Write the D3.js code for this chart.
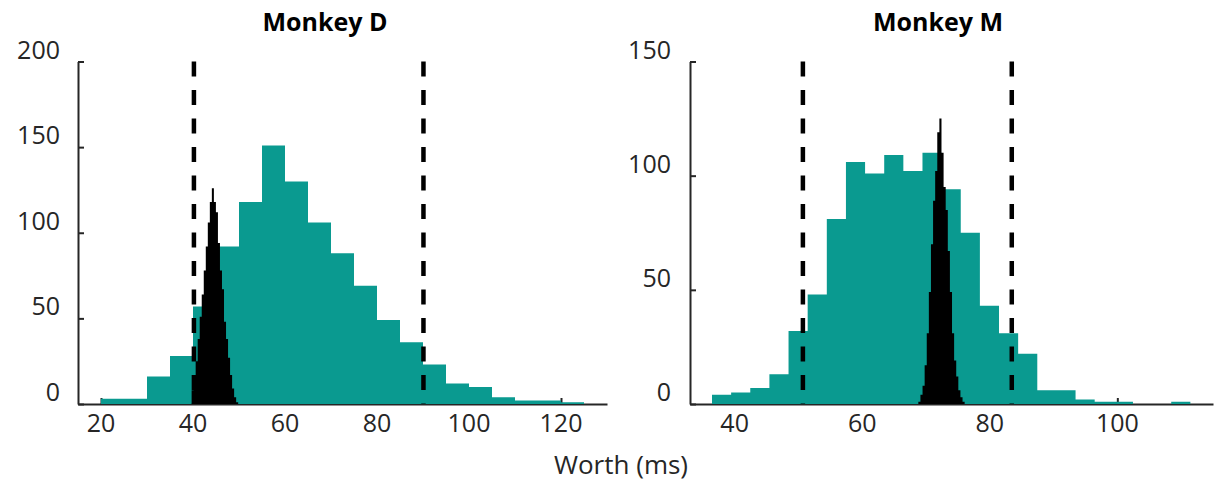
<!DOCTYPE html>
<html>
<head>
<meta charset="utf-8">
<script src="https://cdn.jsdelivr.net/npm/d3@7"></script>
<style>
  body { margin: 0; background: #fff; }
  svg text { font-family: "Open Sans", "Noto Sans", sans-serif; fill: #262626; }
</style>
</head>
<body>
<svg id="chart"></svg>
<script>
(function (d3) {
    'use strict';

    // Monkey D: wide (teal) histogram, bin start / width / counts
    var dTealStart = 20, dTealWidth = 5;
    var dTeal = [3, 3, 16, 28, 57, 92, 118, 151, 130, 106, 88, 69, 49, 36, 23, 12, 10, 4, 2, 2, 1];
    // Monkey D: narrow (black) histogram
    var dBlackStart = 39.7, dBlackWidth = 0.44;
    var dBlack = [8, 14, 25, 38, 51, 64, 78, 92, 106, 118, 126, 118, 112, 94, 78, 67, 48, 38, 27, 17, 9, 4, 1];
    var dBounds = [40.2, 90.1];
    var dXTicks = [20, 40, 60, 80, 100, 120];
    var dYTicks = [0, 50, 100, 150, 200];

    // Monkey M
    var mTealStart = 36.45, mTealWidth = 3;
    var mTeal = [4, 5, 7, 13, 32, 48, 81, 106, 101, 109, 102, 110, 94, 75, 43, 31, 22, 6, 6, 2, 1, 1, 0, 0, 1];
    var mBlackStart = 68.8, mBlackWidth = 0.33;
    var mBlack = [1, 4, 8, 17, 31, 49, 70, 89, 102, 119, 125, 110, 95, 85, 67, 49, 31, 19, 12, 6, 3, 1];
    var mBounds = [50.7, 83.45];
    var mXTicks = [40, 60, 80, 100];
    var mYTicks = [0, 50, 100, 150];

    var width = 1215, height = 483;
    var teal = '#0a9a90', ink = '#262626';

    var svg = d3.select('#chart')
        .attr('width', width)
        .attr('height', height);

    // step outline points for a histogram: one point per bin plus a closing point
    function steps(start, w, counts) {
        var pts = counts.map(function (c, i) { return { x: start + i * w, n: c }; });
        pts.push({ x: start + counts.length * w, n: 0 });
        return pts;
    }

    function panel(opt) {
        var x = d3.scaleLinear().domain(opt.xDomain).range(opt.xRange),
            y = d3.scaleLinear().domain(opt.yDomain).range([404, 61.5]);

        var g = svg.append('g');

        // axes (ticks point inward, drawn under the bars)
        g.append('g')
            .attr('class', 'axis axis--x')
            .attr('transform', 'translate(0,' + y(0) + ')')
            .call(d3.axisBottom(x).tickValues(opt.xTicks).tickSize(-6).tickSizeOuter(0).tickFormat(''));

        g.append('g')
            .attr('class', 'axis axis--y')
            .attr('transform', 'translate(' + x.range()[0] + ',0)')
            .call(d3.axisLeft(y).tickValues(opt.yTicks).tickSize(-6).tickSizeOuter(0).tickFormat(''));

        g.selectAll('.axis path, .axis line')
            .attr('stroke', ink)
            .attr('stroke-width', 2);

        var area = d3.area()
            .curve(d3.curveStepAfter)
            .x(function (d) { return x(d.x); })
            .y0(y(0))
            .y1(function (d) { return y(d.n); });

        g.append('path')
            .datum(steps(opt.tealStart, opt.tealWidth, opt.teal))
            .attr('class', 'teal')
            .attr('d', area)
            .attr('fill', teal);

        g.append('path')
            .datum(steps(opt.blackStart, opt.blackWidth, opt.black))
            .attr('class', 'black')
            .attr('d', area)
            .attr('fill', '#000');

        g.selectAll('.bound')
            .data(opt.bounds)
            .enter()
            .append('line')
            .attr('class', 'bound')
            .attr('x1', function (d) { return x(d); })
            .attr('x2', function (d) { return x(d); })
            .attr('y1', y.range()[1])
            .attr('y2', y(0))
            .attr('stroke', '#000')
            .attr('stroke-width', 4.5)
            .attr('stroke-dasharray', '15,13.5');

        // tick labels
        g.selectAll('.xlab')
            .data(opt.xTicks)
            .enter()
            .append('text')
            .attr('x', function (d) { return x(d); })
            .attr('y', 432)
            .attr('text-anchor', 'middle')
            .style('font-size', '25px')
            .text(function (d) { return d; });

        g.selectAll('.ylab')
            .data(opt.yTicks)
            .enter()
            .append('text')
            .attr('x', opt.yLabelX)
            .attr('y', function (d) { return y(d) - 3; })
            .attr('text-anchor', 'end')
            .style('font-size', '25px')
            .text(function (d) { return d; });

        g.append('text')
            .attr('x', opt.titleX)
            .attr('y', 31)
            .attr('text-anchor', 'middle')
            .style('font-size', '25px')
            .style('font-weight', 'bold')
            .style('fill', '#000')
            .text(opt.title);
    }

    panel({
        title: 'Monkey D', titleX: 325,
        xDomain: [15, 130], xRange: [78, 607],
        yDomain: [0, 200], yLabelX: 60,
        xTicks: dXTicks, yTicks: dYTicks,
        tealStart: dTealStart, tealWidth: dTealWidth, teal: dTeal,
        blackStart: dBlackStart, blackWidth: dBlackWidth, black: dBlack,
        bounds: dBounds
    });

    panel({
        title: 'Monkey M', titleX: 938,
        xDomain: [33, 115], xRange: [690, 1213],
        yDomain: [0, 150], yLabelX: 671,
        xTicks: mXTicks, yTicks: mYTicks,
        tealStart: mTealStart, tealWidth: mTealWidth, teal: mTeal,
        blackStart: mBlackStart, blackWidth: mBlackWidth, black: mBlack,
        bounds: mBounds
    });

    svg.append('text')
        .attr('x', 621)
        .attr('y', 474)
        .attr('text-anchor', 'middle')
        .style('font-size', '26px')
        .text('Worth (ms)');

})(window.d3);
</script>
</body>
</html>
